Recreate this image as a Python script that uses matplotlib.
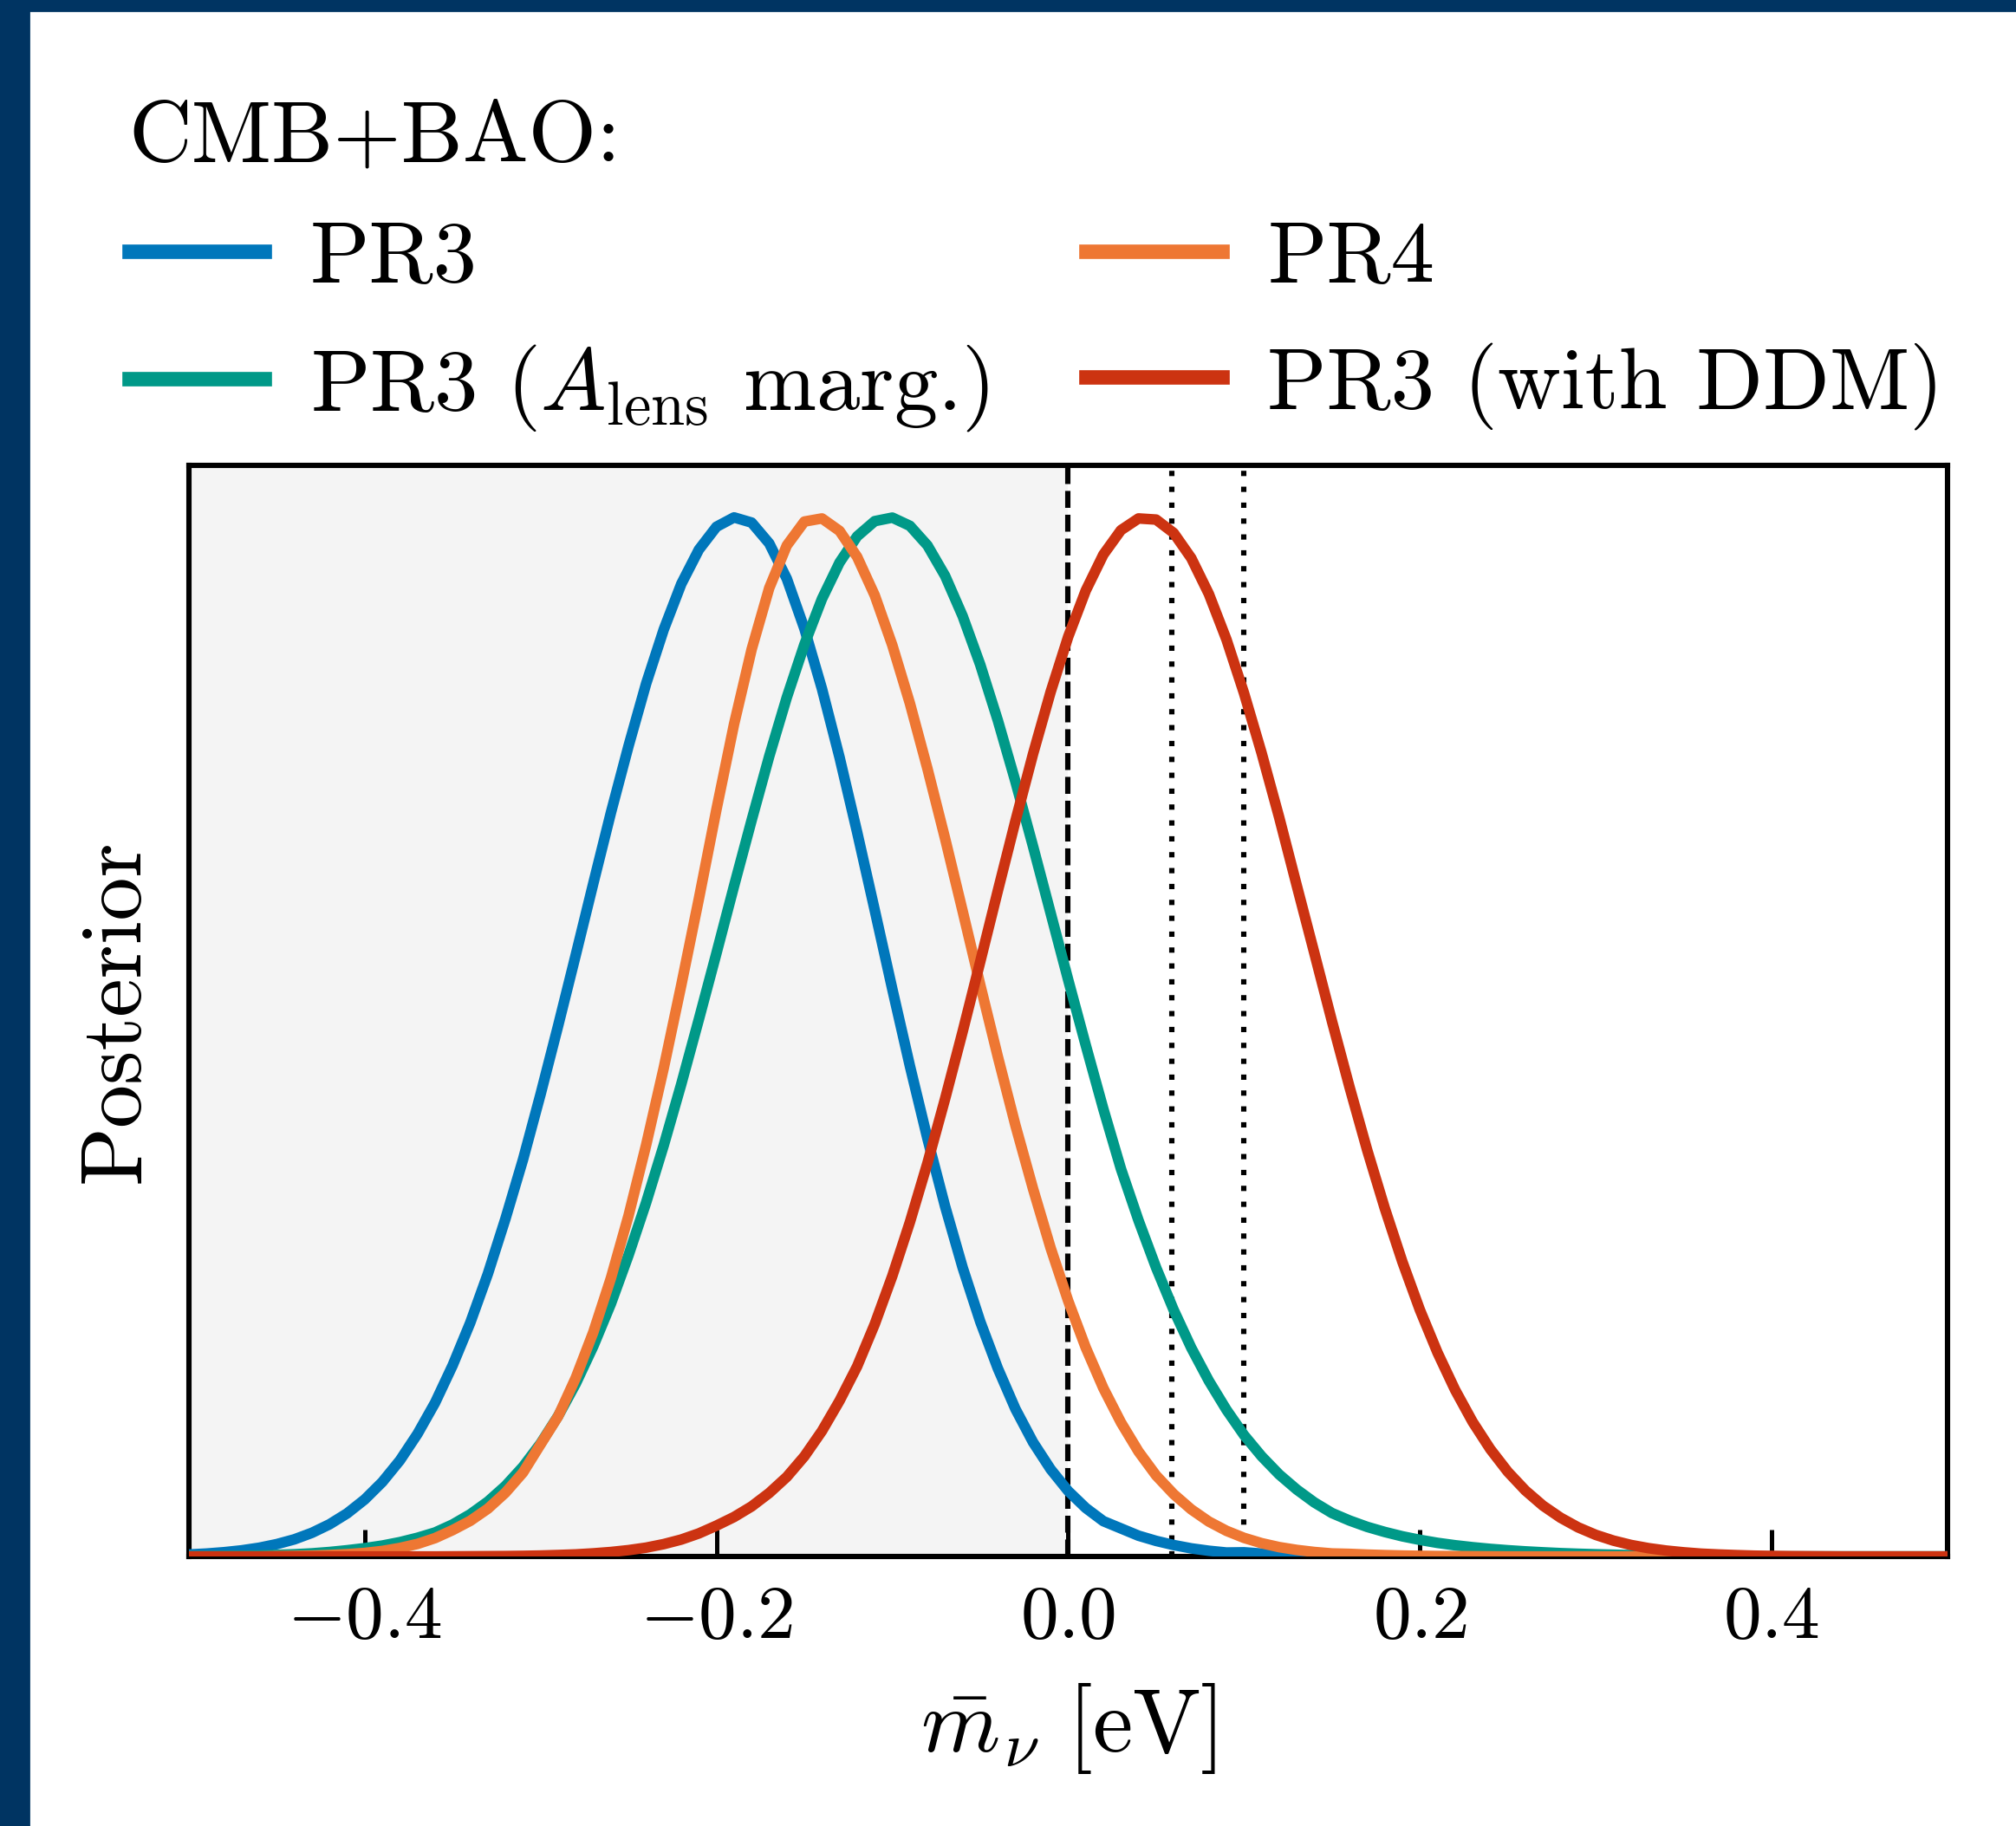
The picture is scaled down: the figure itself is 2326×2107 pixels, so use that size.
import numpy as np
import matplotlib
matplotlib.use("Agg")
import matplotlib.pyplot as plt
from matplotlib.patches import Rectangle

plt.rcParams["font.family"] = "serif"
plt.rcParams["font.serif"] = ["cmr10"]
plt.rcParams["mathtext.fontset"] = "cm"
plt.rcParams["axes.unicode_minus"] = False

# effective neutrino mass grid [eV]
m_nu = np.round(np.arange(-0.50, 0.505, 0.01), 2)

# normalised 1D posteriors, sampled on m_nu
post_pr3 = [
    0.0019, 0.0028, 0.0041, 0.0059, 0.0084, 0.0119, 0.0165, 0.0228, 0.031, 0.0415,
    0.0549, 0.0717, 0.0925, 0.118, 0.148, 0.184, 0.225, 0.272, 0.325, 0.382,
    0.445, 0.511, 0.579, 0.648, 0.716, 0.780, 0.840, 0.892, 0.936, 0.969,
    0.991, 1.000, 0.995, 0.975, 0.941, 0.893, 0.835, 0.769, 0.697, 0.622,
    0.546, 0.472, 0.402, 0.337, 0.278, 0.226, 0.181, 0.142, 0.110, 0.084,
    0.063, 0.0467, 0.034, 0.027, 0.020, 0.015, 0.011, 0.0078, 0.0055, 0.0038,
    0.004, 0.0028, 0.0019, 0.0012, 0.0008, 0.0005, 0.0003, 0.0002, 0.0001, 0.0,
    0.0, 0.0, 0.0, 0.0, 0.0, 0.0, 0.0, 0.0, 0.0, 0.0,
    0.0, 0.0, 0.0, 0.0, 0.0, 0.0, 0.0, 0.0, 0.0, 0.0,
    0.0, 0.0, 0.0, 0.0, 0.0, 0.0, 0.0, 0.0, 0.0, 0.0,
    0.0,
]
post_pr4 = [
    0.0, 0.0, 0.0, 0.0, 0.0, 0.0003, 0.0005, 0.0008, 0.0014, 0.0022,
    0.0034, 0.0053, 0.0082, 0.0121, 0.0177, 0.0254, 0.0343, 0.046, 0.0614, 0.0808,
    0.108, 0.135, 0.172, 0.216, 0.268, 0.328, 0.396, 0.470, 0.550, 0.633,
    0.719, 0.801, 0.873, 0.932, 0.973, 0.996, 0.999, 0.987, 0.962, 0.925,
    0.877, 0.821, 0.758, 0.691, 0.621, 0.550, 0.481, 0.415, 0.354, 0.297,
    0.246, 0.201, 0.162, 0.129, 0.101, 0.078, 0.060, 0.0453, 0.0336, 0.0247,
    0.0179, 0.0128, 0.0090, 0.0063, 0.0043, 0.0029, 0.0025, 0.0018, 0.0013, 0.0009,
    0.0006, 0.0004, 0.0003, 0.0002, 0.0001, 0.0, 0.0, 0.0, 0.0, 0.0,
    0.0, 0.0, 0.0, 0.0, 0.0, 0.0, 0.0, 0.0, 0.0, 0.0,
    0.0, 0.0, 0.0, 0.0, 0.0, 0.0, 0.0, 0.0, 0.0, 0.0,
    0.0,
]
post_pr3_alens = [
    0.0002, 0.0003, 0.0005, 0.0007, 0.0010, 0.0015, 0.0021, 0.0030, 0.0043, 0.0060,
    0.0080, 0.0105, 0.0138, 0.0180, 0.0231, 0.0308, 0.0406, 0.0528, 0.0679, 0.0864,
    0.1088, 0.1353, 0.1664, 0.2025, 0.2434, 0.2900, 0.3406, 0.3956, 0.4547, 0.5170,
    0.5806, 0.6453, 0.7086, 0.7701, 0.8268, 0.8777, 0.9216, 0.9566, 0.9818, 0.9964,
    0.9998, 0.9919, 0.9730, 0.9438, 0.9050, 0.8582, 0.8046, 0.7459, 0.6835, 0.6193,
    0.5550, 0.4920, 0.4307, 0.3731, 0.3234, 0.2780, 0.2372, 0.2008, 0.1690, 0.1412,
    0.1168, 0.0964, 0.0789, 0.0644, 0.0520, 0.0418, 0.0346, 0.0285, 0.0236, 0.0194,
    0.0160, 0.0131, 0.0108, 0.0089, 0.0073, 0.0060, 0.0049, 0.0040, 0.0032, 0.0026,
    0.0021, 0.0017, 0.0013, 0.0010, 0.0008, 0.0006, 0.0004, 0.0003, 0.0002, 0.0001,
    0.0, 0.0, 0.0, 0.0, 0.0, 0.0, 0.0, 0.0, 0.0, 0.0,
    0.0,
]
post_pr3_ddm = [
    0.0, 0.0, 0.0, 0.0, 0.0, 0.0, 0.0, 0.0, 0.0, 0.0,
    0.0, 0.0, 0.0, 0.0, 0.0, 0.0001, 0.0002, 0.0003, 0.0004, 0.0006,
    0.0009, 0.0014, 0.0020, 0.0030, 0.0043, 0.0061, 0.0085, 0.0119, 0.0163, 0.0222,
    0.0297, 0.0380, 0.0482, 0.0611, 0.0766, 0.0964, 0.1208, 0.1499, 0.1830, 0.2236,
    0.2700, 0.3218, 0.3787, 0.4404, 0.5052, 0.5725, 0.6407, 0.7078, 0.7722, 0.8319,
    0.8851, 0.9296, 0.9642, 0.9877, 0.9990, 0.9979, 0.9850, 0.9608, 0.9263, 0.8825,
    0.8308, 0.7732, 0.7112, 0.6456, 0.5806, 0.5151, 0.4517, 0.3913, 0.3353, 0.2838,
    0.2373, 0.1963, 0.1604, 0.1295, 0.1034, 0.0815, 0.0635, 0.0489, 0.0373, 0.0280,
    0.0208, 0.0153, 0.0111, 0.0080, 0.0057, 0.0040, 0.0027, 0.0019, 0.0013, 0.0008,
    0.0005, 0.0003, 0.0002, 0.0001, 0.0, 0.0, 0.0, 0.0, 0.0, 0.0,
    0.0,
]

labels = ["PR3", r"PR3 ($A_{\rm lens}$ marg.)", "PR4", "PR3 (with DDM)"]
colors = ["#0077BB", "#009988", "#EE7733", "#CC3311"]
series = [post_pr3, post_pr3_alens, post_pr4, post_pr3_ddm]

# minimal masses for normal / inverted ordering
m_min_no = 0.059
m_min_io = 0.10

xticks = [-0.4, -0.2, 0.0, 0.2, 0.4]
xticklabels = [r"$-0.4$", r"$-0.2$", r"$0.0$", r"$0.2$", r"$0.4$"]

fig = plt.figure(figsize=(11.63, 10.535), dpi=200)
ax = fig.add_axes([0.0937, 0.1476, 0.8723, 0.5975])

ax.axvspan(-0.5, 0.0, color="#f4f4f4", lw=0, zorder=0)

# draw order keeps the red curve on top
handles = {}
for lab, col, y in zip(labels, colors, series):
    handles[lab], = ax.plot(m_nu, y, color=col, lw=4.4, zorder=3,
                            solid_joinstyle="round")

ax.axvline(0.0, color="k", ls=(0, (3.2, 1.3)), lw=2.2, zorder=2)
ax.axvline(m_min_no, color="k", ls=(0, (1, 2)), lw=2.2, zorder=2)
ax.axvline(m_min_io, color="k", ls=(0, (1, 2)), lw=2.2, zorder=2)

ax.set_xlim(-0.5, 0.5)
ax.set_ylim(0, 1.05)
ax.set_xticks(xticks)
ax.set_xticklabels(xticklabels)
ax.set_yticks([])
ax.tick_params(axis="x", direction="in", length=11, width=1.8, labelsize=31.5, pad=12)
for sp in ax.spines.values():
    sp.set_linewidth(2.2)

ax.set_xlabel(r"$\bar{m}_{\nu}\ [\mathrm{eV}]$", fontsize=37.5, labelpad=12)
ax.set_ylabel("Posterior", fontsize=36, labelpad=14)

leg = fig.legend([handles[l] for l in labels], labels, title="CMB+BAO:",
                 loc="upper left", bbox_to_anchor=(0.064, 0.945), ncol=2,
                 frameon=False, fontsize=36.3, title_fontsize=36.3,
                 handlelength=1.55, handletextpad=0.52, columnspacing=1.12,
                 labelspacing=0.5, borderpad=0, borderaxespad=0,
                 alignment="left")
for h in leg.get_lines():
    h.set_linewidth(6.0)

# navy frame along the top and left edges
fig.patches.append(Rectangle((0, 0), 0.014, 1, transform=fig.transFigure,
                             color="#003462", zorder=10))
fig.patches.append(Rectangle((0, 0.9945), 1, 0.0055, transform=fig.transFigure,
                             color="#003462", zorder=10))

fig.savefig("out.png", dpi=200)
